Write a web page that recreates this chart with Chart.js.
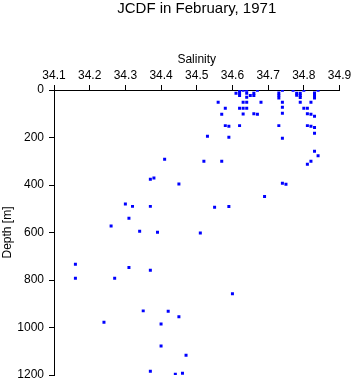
<!DOCTYPE html>
<html>
<head>
<meta charset="utf-8">
<script src="https://cdn.jsdelivr.net/npm/chart.js@4.4.1/dist/chart.umd.min.js"></script>
<style>
html,body{margin:0;padding:0;background:#fff;}
canvas{display:block;}
</style>
</head>
<body>
<canvas id="c" width="353" height="384"></canvas>
<script>
const salinity = [
  34.61,34.62,34.62,34.62,34.63,34.64,34.64,34.64,34.65,34.66,34.66,34.67,34.68,
  34.73,34.73,34.73,34.74,34.77,34.78,34.78,34.79,34.79,34.79,34.80,34.83,34.83,34.83,34.84,
  34.56,34.63,34.64,34.74,34.79,34.82,
  34.58,34.62,34.63,34.64,34.74,34.80,34.81,
  34.57,34.63,34.66,34.67,34.74,34.81,34.82,34.83,
  34.58,34.59,34.62,34.73,34.81,34.82,34.83,34.83,
  34.53,34.59,34.74,
  34.83,34.84,34.82,34.81,34.52,34.57,34.41,34.37,34.38,34.45,34.74,34.75,34.69,
  34.55,34.59,34.30,34.32,34.37,34.31,34.26,34.34,34.39,34.51,
  34.16,34.31,34.37,34.16,34.27,34.60,34.35,34.42,34.45,34.24,34.40,34.40,34.47,
  34.37,34.44,34.46
];
const depth = [
  14,2,13,23,1,1,14,31,23,14,23,1,52,
  13,23,34,1,1,14,22,14,23,32,1,13,23,34,1,
  52,52,52,52,52,52,
  77,77,77,77,73,77,77,
  102,101,100,102,98,100,102,111,
  150,153,150,150,150,153,158,182,
  195,199,203,
  258,277,300,313,300,300,292,376,371,396,393,397,448,
  494,491,480,490,490,540,573,595,599,602,
  734,747,759,793,793,858,930,932,955,978,985,1078,1117,
  1184,1197,1193
];
const salinityTicks = [34.1,34.2,34.3,34.4,34.5,34.6,34.7,34.8,34.9];
const depthTicks = [0,200,400,600,800,1000,1200];
const titleText = 'JCDF in February, 1971';
const xTitle = 'Salinity';
const yTitle = 'Depth [m]';

const points = salinity.map((s, i) => ({x: s, y: depth[i]}));
const FONT = "'Liberation Sans', Arial, Helvetica, sans-serif";

new Chart(document.getElementById('c'), {
  type: 'scatter',
  data: {
    datasets: [{
      data: points,
      pointStyle: 'rect',
      pointRadius: 2.12,
      pointHoverRadius: 2.12,
      borderWidth: 0,
      backgroundColor: '#0000ff',
      borderColor: '#0000ff'
    }]
  },
  options: {
    responsive: false,
    animation: false,
    devicePixelRatio: 1,
    layout: {padding: {left: 0, right: 13.5, top: 0, bottom: 9}},
    plugins: {
      legend: {display: false},
      tooltip: {enabled: false},
      title: {
        display: true,
        text: titleText,
        fullSize: false,
        color: '#000',
        font: {family: FONT, size: 15, weight: 'normal'},
        padding: {top: 0, bottom: 34}
      }
    },
    scales: {
      x: {
        type: 'linear',
        position: 'top',
        min: 34.1,
        max: 34.9,
        afterBuildTicks: s => { s.ticks = salinityTicks.map(v => ({value: v})); },
        afterFit: s => { s.height = 90 - 52; s.paddingLeft = 0; s.paddingRight = 0; },
        ticks: {
          color: '#000',
          font: {family: FONT, size: 12},
          padding: 2,
          maxRotation: 0,
          autoSkip: false,
          callback: v => Number(v).toFixed(1)
        },
        grid: {display: true, drawOnChartArea: false, drawTicks: true, tickLength: 5, color: '#000', lineWidth: 1},
        border: {display: true, color: '#000', width: 1},
        title: {display: true, text: xTitle, color: '#000', font: {family: FONT, size: 12}, padding: {top: 0, bottom: 0}}
      },
      y: {
        type: 'linear',
        position: 'left',
        reverse: true,
        min: 0,
        max: 1200,
        afterBuildTicks: s => { s.ticks = depthTicks.map(v => ({value: v})); },
        afterFit: s => { s.width = 54; s.paddingTop = 0; s.paddingBottom = 0; },
        ticks: {
          color: '#000',
          font: {family: FONT, size: 12},
          padding: 5,
          autoSkip: false,
          callback: v => String(v)
        },
        grid: {display: true, drawOnChartArea: false, drawTicks: true, tickLength: 5, color: '#000', lineWidth: 1},
        border: {display: true, color: '#000', width: 1},
        title: {display: true, text: yTitle, color: '#000', font: {family: FONT, size: 12}, padding: {top: 0, bottom: 0}}
      }
    }
  }
});
</script>
</body>
</html>
